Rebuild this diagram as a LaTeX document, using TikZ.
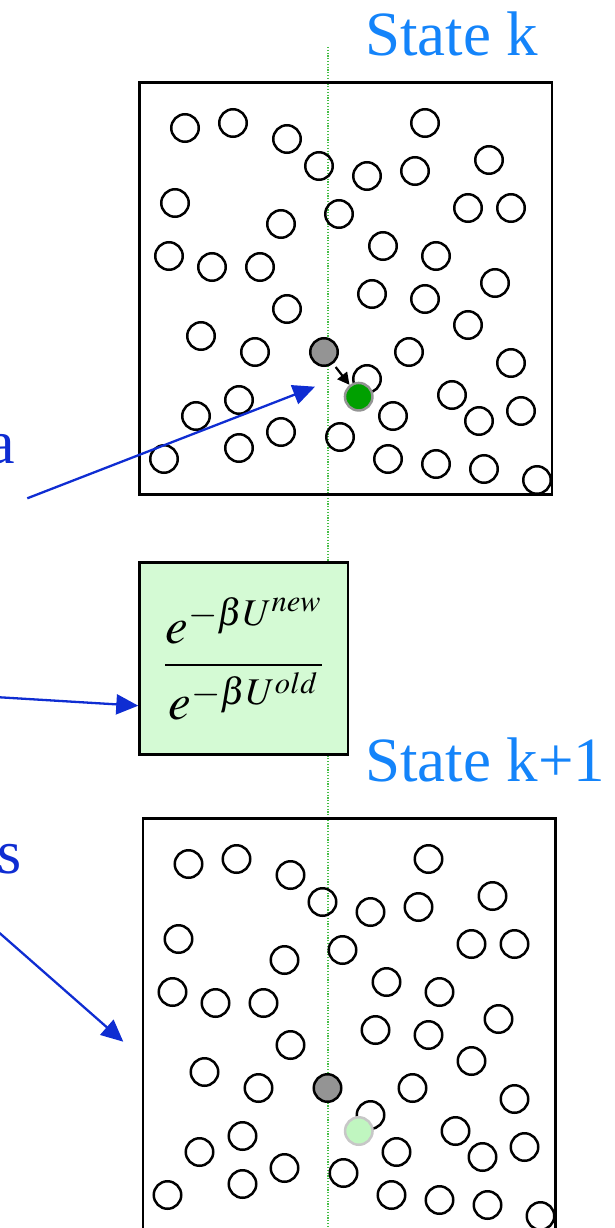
\documentclass[tikz,border=0pt]{standalone}
\usepackage{mathptmx}
\usepackage{fontspec}
\setmainfont{Liberation Serif}
\newfontfamily\capfont{Liberation Serif}
\usetikzlibrary{arrows.meta}

\definecolor{stateblue}{RGB}{20,132,250}
\definecolor{pointerblue}{RGB}{15,45,210}
\definecolor{ratiogreen}{RGB}{212,250,212}
\definecolor{newgreen}{RGB}{0,160,0}
\definecolor{ghostgreen}{RGB}{192,246,192}
\definecolor{guidegreen}{RGB}{70,190,70}

\newcommand{\cloud}[1]{%
  \foreach \px/\py [count=\n] in {185/128,233/123,287/139,319/166,175/203,281/224,339/214,
      169/256,212/267,260/267,425/123,367/176,415/171,489/160,468/208,511/208,383/246,
      436/256,495/283,287/309,201/336,255/352,239/400,196/416,281/432,239/448,164/459,
      340/437,372/294,425/299,468/325,409/352,511/363,367/379,452/395,393/416,479/421,
      521/411,388/459,436/464,484/469,537/480}
    \node[mol] (#1\n) at (\px,\py) {};}

\begin{document}
\begin{tikzpicture}[x=1pt, y=-1pt,
    cell/.style={draw, line width=2.6pt, minimum width=412.7pt, minimum height=412.4pt, inner sep=0pt},
    mol/.style={circle, draw, line width=2.5pt, minimum size=27.5pt, inner sep=0pt},
    oldmol/.style={mol, fill=black!42},
    newmol/.style={mol, draw=black!42, fill=newgreen},
    ghostmol/.style={mol, draw=black!22, fill=ghostgreen},
    ratio/.style={draw, line width=2.6pt, fill=ratiogreen, minimum width=208.6pt, minimum height=192pt,
      inner sep=0pt, font=\fontsize{51}{58}\selectfont},
    statecap/.style={anchor=base west, inner sep=0pt, text=stateblue, font=\capfont\fontsize{63}{70}\selectfont},
    tag/.style={anchor=base west, inner sep=0pt, text=pointerblue, font=\capfont\fontsize{62}{70}\selectfont},
    pointer/.style={draw=pointerblue, line width=2.3pt, -{Triangle[length=22pt,width=20pt]}},
    guide/.style={guidegreen, line width=1.1pt, dash pattern=on 1.2pt off 1.6pt},
  ]
  \useasboundingbox (0,0) rectangle (614,1228);
  \coordinate (guidetop) at (328,47);
  \coordinate (guidebot) at (328,1232);
  \draw[guide] (guidetop) -- (guidebot);

  \node[statecap] (capk) at (365,56) {State k};
  \node[cell] (cellk) at (345.65,288.5) {};
  \cloud{k}
  \node[oldmol] (oldk) at (324,352) {};
  \node[newmol] (newk) at (358.7,396.7) {};
  \draw[line width=2.2pt, shorten <=4pt, -{Triangle[length=12pt,width=12pt]}] (oldk) -- (newk);

  \node[ratio] (ratio) at (243.5,658.3)
    {$\displaystyle\frac{e^{-\beta U^{new}}}{e^{-\beta U^{old}}}$};

  \node[statecap] (capk1) at (365,781.5) {State k+1};
  \node[cell] (cellk1) at (349.15,1024.5) {};
  \begin{scope}[shift={(3.5,736)}]
    \cloud{m}
    \node[oldmol] (oldm) at (324,352) {};
    \node[ghostmol] (newm) at (355.3,395) {};
  \end{scope}

  \node[tag] (taga) at (-12.5,463) {a};
  \node[tag] (tags) at (-3,873) {s};
  \coordinate (froma) at (27.3,498.3);
  \coordinate (toa) at (315,386.7);
  \coordinate (fromr) at (-5,697);
  \coordinate (tor) at (138.3,705.7);
  \coordinate (froms) at (-5,929);
  \coordinate (tos) at (123.3,1041.7);
  \draw[pointer] (froma) -- (toa);
  \draw[pointer] (fromr) -- (tor);
  \draw[pointer] (froms) -- (tos);
\end{tikzpicture}
\end{document}
